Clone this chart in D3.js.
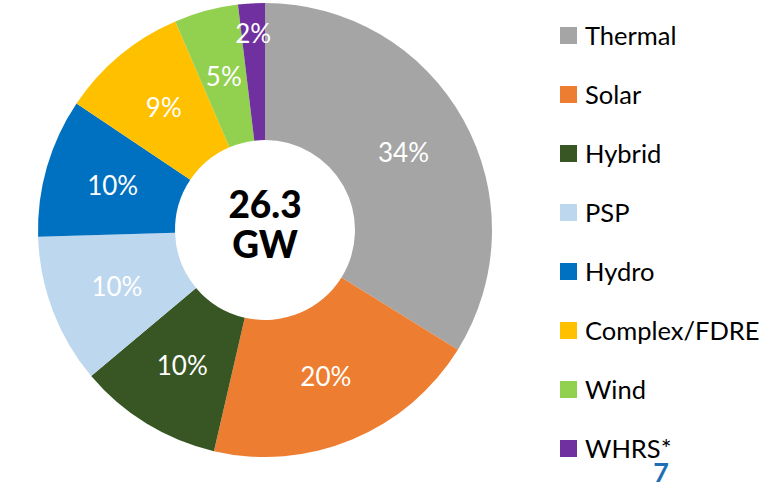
<!DOCTYPE html>
<html>
<head>
<meta charset="utf-8">
<script src="https://cdn.jsdelivr.net/npm/d3@7"></script>
<style>
  body { margin: 0; background: #fff; }
  svg { display: block; font-family: Lato, "Open Sans", sans-serif; }
</style>
</head>
<body>
<svg id="chart" width="769" height="483"></svg>
<script>
// capacity by source, GW (total 26.3)
var sources = ['Thermal', 'Solar', 'Hybrid', 'PSP', 'Hydro', 'Complex/FDRE', 'Wind', 'WHRS*'];
var capacity = [8.9, 5.2, 2.7, 2.8, 2.6, 2.4, 1.2, 0.5];
var pctLabels = ['34%', '20%', '10%', '10%', '10%', '9%', '5%', '2%'];
var colours = ['#A5A5A5', '#ED7D31', '#375623', '#BDD7EE', '#0070C0', '#FFC000', '#92D050', '#7030A0'];
var centreLines = ['26.3', 'GW'];

var svg = d3.select('#chart');
var cx = 265, cy = 230, rOut = 227, rIn = 90;

var data = sources.map(function(s, i) { return {name: s, value: capacity[i], label: pctLabels[i], colour: colours[i]}; });
var total = d3.sum(capacity);

var pie = d3.pie().sort(null).value(function(d) { return d.value; });
var arc = d3.arc().innerRadius(rIn).outerRadius(rOut);
var labelArc = d3.arc().innerRadius(rIn).outerRadius(rOut);
var smallArc = d3.arc().innerRadius(rOut - 60).outerRadius(rOut - 0);

var g = svg.append('g').attr('transform', 'translate(' + cx + ',' + cy + ')');

var slices = pie(data);
g.selectAll('path.slice')
  .data(slices)
  .enter().append('path')
    .attr('class', 'slice')
    .attr('d', arc)
    .style('fill', function(d) { return d.data.colour; });

g.selectAll('text.pct')
  .data(slices)
  .enter().append('text')
    .attr('class', 'pct')
    .attr('transform', function(d) {
      // tiny slices get their label pushed out to the rim
      var c = (d.data.value / total < 0.03) ? smallArc.centroid(d) : labelArc.centroid(d);
      return 'translate(' + c + ')';
    })
    .attr('text-anchor', 'middle')
    .attr('dy', '0.36em')
    .style('fill', '#fff')
    .style('font-size', '26px')
    .text(function(d) { return d.data.label; });

g.selectAll('text.centre')
  .data(centreLines)
  .enter().append('text')
    .attr('class', 'centre')
    .attr('text-anchor', 'middle')
    .attr('y', function(d, i) { return i === 0 ? -12 : 28; })
    .style('font-size', '37px')
    .style('font-weight', '900')
    .style('fill', '#000')
    .text(function(d) { return d; });

// legend
var legend = svg.append('g').attr('transform', 'translate(560,35)');
var row = d3.scaleBand().domain(sources).range([0, 59 * sources.length]).paddingInner(0);
var items = legend.selectAll('g.item')
  .data(data)
  .enter().append('g')
    .attr('class', 'item')
    .attr('transform', function(d) { return 'translate(0,' + (row(d.name) - 8) + ')'; });
items.append('rect')
  .attr('width', 17).attr('height', 17)
  .style('fill', function(d) { return d.colour; });
items.append('text')
  .attr('x', 25).attr('y', 8.5).attr('dy', '0.36em')
  .style('font-size', '25.5px')
  .style('fill', '#000')
  .text(function(d) { return d.name; });

// slide number
svg.append('text')
  .attr('x', 661).attr('y', 482)
  .attr('text-anchor', 'middle')
  .style('font-size', '27px')
  .style('font-weight', 'bold')
  .style('fill', '#1F6FB5')
  .text('7');
</script>
</body>
</html>
